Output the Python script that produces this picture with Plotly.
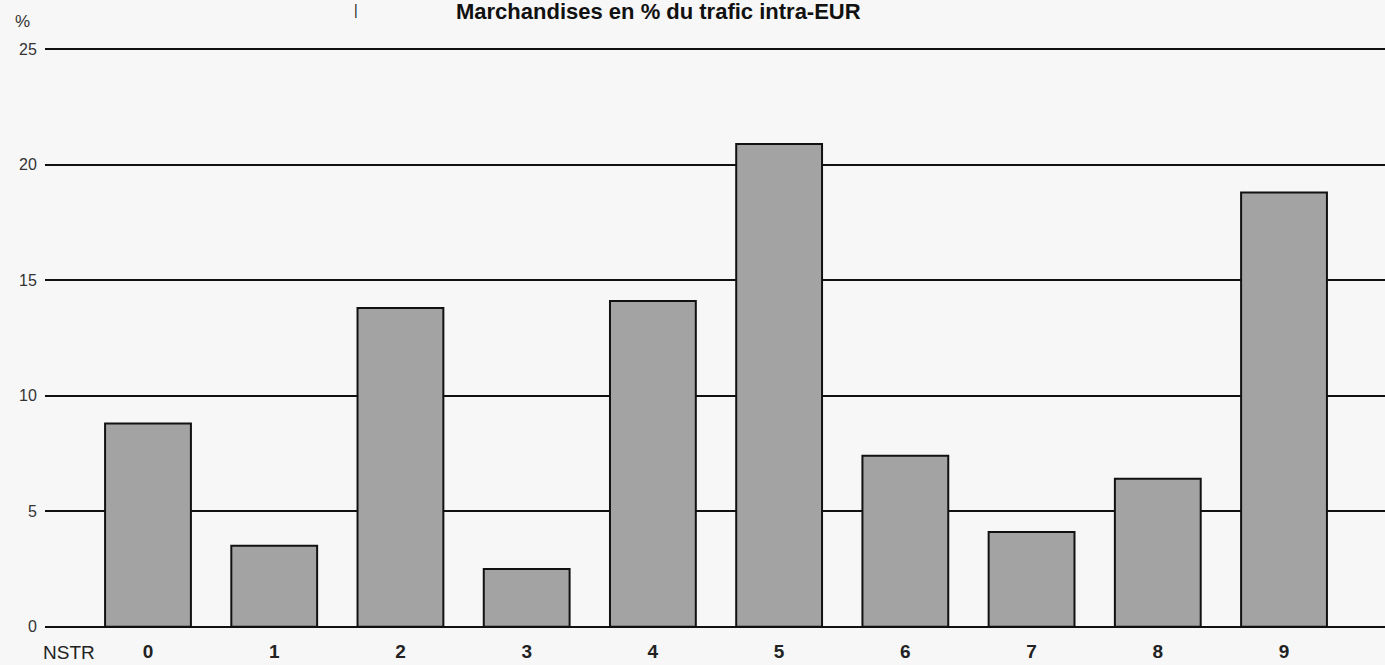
import plotly.graph_objects as go

categories = ["0", "1", "2", "3", "4", "5", "6", "7", "8", "9"]
values = [8.8, 3.5, 13.8, 2.5, 14.1, 20.9, 7.4, 4.1, 6.4, 18.8]
y_ticks = [0, 5, 10, 15, 20, 25]
title_text = "Marchandises en % du trafic intra-EUR"

FONT = "Liberation Sans Narrow, Arial Narrow, Liberation Sans, Arial, sans-serif"

fig = go.Figure()
fig.add_trace(go.Bar(
    x=list(range(len(categories))),
    y=values,
    width=0.68,
    marker=dict(color="#a3a3a3", line=dict(color="#111111", width=2)),
    showlegend=False,
))

fig.update_layout(
    width=1385, height=665,
    margin=dict(l=45, r=0, t=40, b=36),
    paper_bgcolor="#f7f7f7",
    plot_bgcolor="#f7f7f7",
    font=dict(family=FONT, color="#222222"),
    xaxis=dict(
        range=[-0.816, 9.80],
        tickmode="array",
        tickvals=list(range(len(categories))),
        ticktext=["<b>" + c + "</b>" for c in categories],
        tickfont=dict(size=19, family="Liberation Sans, Arial, sans-serif", color="#222222"),
        showgrid=False, zeroline=False, showline=False,
        ticks="outside", ticklen=5, tickcolor="rgba(0,0,0,0)",
    ),
    yaxis=dict(
        range=[-0.1, 25.4],
        tickmode="array",
        tickvals=y_ticks,
        ticktext=[str(v) for v in y_ticks],
        tickfont=dict(size=16, family=FONT, color="#333333"),
        showgrid=True, gridcolor="#111111", gridwidth=1.5,
        zeroline=False, showline=False,
        ticks="outside", ticklen=4, tickcolor="rgba(0,0,0,0)",
    ),
)

fig.add_annotation(text="<b>" + title_text + "</b>", xref="paper", yref="paper",
                   x=(658 - 45) / 1340, y=1 + (40 - 12) / 589, xanchor="center", yanchor="middle",
                   showarrow=False, font=dict(size=22, family="Liberation Sans, Arial, sans-serif", color="#111111"))
fig.add_annotation(text="|", xref="paper", yref="paper",
                   x=(356 - 45) / 1340, y=1 + (40 - 10) / 589, xanchor="center", yanchor="middle",
                   showarrow=False, font=dict(size=14, family=FONT, color="#222222"))
fig.add_annotation(text="%", xref="paper", yref="paper",
                   x=(22 - 45) / 1340, y=1 + (40 - 21) / 589, xanchor="center", yanchor="middle",
                   showarrow=False, font=dict(size=17, family=FONT, color="#333333"))
fig.add_annotation(text="NSTR", xref="paper", yref="paper",
                   x=(41 - 45) / 1340, y=-(652 - 629) / 589, xanchor="left", yanchor="middle",
                   showarrow=False, font=dict(size=19, family=FONT, color="#222222"))

fig.write_html("out.html", config={"displayModeBar": False},
               post_script="document.body.style.margin='0';document.body.style.overflow='hidden';")
